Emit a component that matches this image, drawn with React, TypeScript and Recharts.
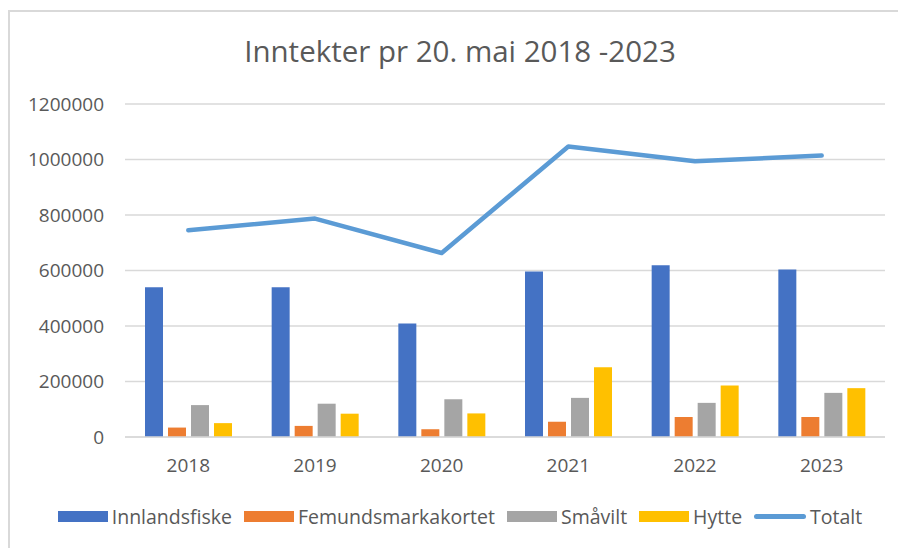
import React from "react";
import { ComposedChart, Bar, Line, XAxis, YAxis, CartesianGrid, Legend } from "recharts";

const years = ["2018", "2019", "2020", "2021", "2022", "2023"];
const innlandsfiske = [540000, 540000, 409000, 596000, 619000, 604000];
const femundsmarkakortet = [34000, 40000, 28000, 55000, 72000, 72000];
const smavilt = [115000, 120000, 136000, 141000, 123000, 159000];
const hytte = [50000, 84000, 85000, 251000, 186000, 176000];
const totalt = [745000, 787000, 663000, 1047000, 994000, 1014000];
const yTicks = [0, 200000, 400000, 600000, 800000, 1000000, 1200000];

const data = years.map((y, i) => ({
  year: y,
  Innlandsfiske: innlandsfiske[i],
  Femundsmarkakortet: femundsmarkakortet[i],
  "Småvilt": smavilt[i],
  Hytte: hytte[i],
  Totalt: totalt[i],
}));

const FONT = "'Open Sans', sans-serif";
const TEXT = "#595959";

const legendItems = [
  { name: "Innlandsfiske", color: "#4472C4", type: "bar" },
  { name: "Femundsmarkakortet", color: "#ED7D31", type: "bar" },
  { name: "Småvilt", color: "#A5A5A5", type: "bar" },
  { name: "Hytte", color: "#FFC000", type: "bar" },
  { name: "Totalt", color: "#5B9BD5", type: "line" },
];

const LegendContent = () => (
  <div
    style={{
      display: "flex",
      justifyContent: "center",
      alignItems: "center",
      height: 30,
      paddingLeft: 22,
      fontFamily: FONT,
      fontSize: 19.5,
      color: TEXT,
    }}
  >
    {legendItems.map((it) => (
      <div key={it.name} style={{ display: "flex", alignItems: "center", marginRight: 12 }}>
        {it.type === "bar" ? (
          <div style={{ width: 50, height: 11, background: it.color, marginRight: 4 }} />
        ) : (
          <div style={{ width: 52, height: 5, borderRadius: 3, background: it.color, marginRight: 4 }} />
        )}
        <span>{it.name}</span>
      </div>
    ))}
  </div>
);

export default function App() {
  return (
    <div style={{ position: "absolute", left: 0, top: 0, width: 898, height: 548, background: "#fff", overflow: "hidden" }}>
      <div
        style={{
          position: "absolute",
          left: 8,
          top: 10,
          width: 900,
          height: 560,
          border: "2px solid #d9d9d9",
        }}
      />
      <div
        style={{
          position: "absolute",
          left: 11,
          top: 36,
          width: 898,
          textAlign: "center",
          fontFamily: FONT,
          fontSize: 29.5,
          lineHeight: "29px",
          color: TEXT,
          whiteSpace: "nowrap",
        }}
      >
        Inntekter pr 20. mai 2018 -2023
      </div>
      <div style={{ position: "absolute", left: 0, top: 0 }}>
        <ComposedChart
          width={898}
          height={548}
          data={data}
          margin={{ top: 104, right: 13, left: 25, bottom: 17 }}
          barSize={18}
          barGap={5}
        >
          <CartesianGrid vertical={false} stroke="#d9d9d9" strokeWidth={1.5} />
          <XAxis
            dataKey="year"
            height={64}
            axisLine={{ stroke: "#d9d9d9", strokeWidth: 1.5 }}
            tickLine={false}
            tickMargin={16}
            tick={{ fill: TEXT, fontSize: 19, fontFamily: FONT }}
          />
          <YAxis
            width={100}
            domain={[0, 1200000]}
            ticks={yTicks}
            axisLine={false}
            tickLine={false}
            tickMargin={15}
            interval={0}
            tick={{ fill: TEXT, fontSize: 19, fontFamily: FONT }}
          />
          <Legend verticalAlign="bottom" content={<LegendContent />} />
          <Bar dataKey="Innlandsfiske" fill="#4472C4" isAnimationActive={false} />
          <Bar dataKey="Femundsmarkakortet" fill="#ED7D31" isAnimationActive={false} />
          <Bar dataKey="Småvilt" fill="#A5A5A5" isAnimationActive={false} />
          <Bar dataKey="Hytte" fill="#FFC000" isAnimationActive={false} />
          <Line
            dataKey="Totalt"
            stroke="#5B9BD5"
            strokeWidth={4.5}
            strokeLinecap="round"
            strokeLinejoin="round"
            dot={false}
            isAnimationActive={false}
          />
        </ComposedChart>
      </div>
    </div>
  );
}
